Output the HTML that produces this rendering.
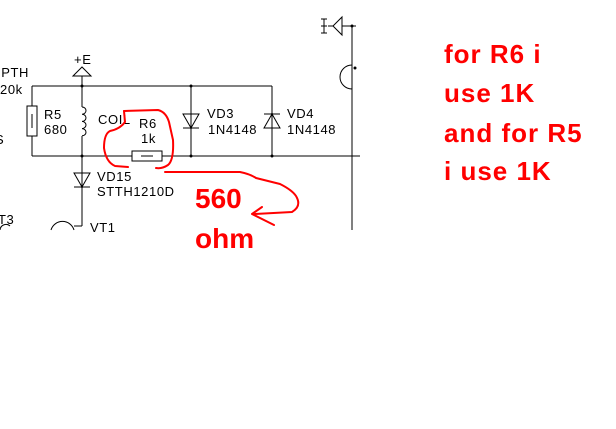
<!DOCTYPE html>
<html><head><style>
html,body{margin:0;padding:0;background:#fff;width:616px;height:429px;overflow:hidden}
svg{display:block}
.t{font-family:"Liberation Sans",sans-serif;font-size:13px;letter-spacing:0.6px;fill:#000}
.r{font-family:"Liberation Sans",sans-serif;font-weight:bold;fill:#f00}
</style></head><body>
<svg width="616" height="429" viewBox="0 0 616 429" xmlns="http://www.w3.org/2000/svg">
<rect width="616" height="429" fill="#fff"/>
<g stroke="#000" stroke-width="1" fill="none" shape-rendering="crispEdges">
<line x1="32" y1="86" x2="272" y2="86"/>
<line x1="32" y1="156" x2="360" y2="156"/>
<line x1="32" y1="86" x2="32" y2="106"/>
<line x1="32" y1="136" x2="32" y2="156"/>
<rect x="27" y="106" width="10" height="30" fill="#fff"/>
<line x1="32" y1="114" x2="32" y2="128"/>
<line x1="82" y1="76" x2="82" y2="107"/>
<line x1="82" y1="136" x2="82" y2="226"/>
<line x1="74" y1="76" x2="90" y2="76"/>
<line x1="191" y1="86" x2="191" y2="156"/>
<line x1="183" y1="128" x2="199" y2="128"/>
<line x1="272" y1="86" x2="272" y2="156"/>
<line x1="264" y1="114" x2="280" y2="114"/>
<line x1="74" y1="187" x2="90" y2="187"/>
<rect x="132" y="151" width="30" height="10" fill="#fff"/>
<line x1="141" y1="156" x2="153" y2="156"/>
<line x1="352" y1="26" x2="352" y2="230"/>
<line x1="342" y1="26" x2="356" y2="26"/>
<line x1="82" y1="226" x2="74" y2="226"/>
</g>
<g stroke="#000" stroke-width="1" fill="none">
<polygon points="82,67 73,76 91,76"/>
<polygon points="183,114 199,114 191,128"/>
<polygon points="264,128 280,128 272,114"/>
<polygon points="74,173 90,173 82,187"/>
<polygon points="342,17 342,35 333,26"/>
<path d="M82,107 a4,3.6 0 0 1 0,7.2 a4,3.6 0 0 1 0,7.2 a4,3.6 0 0 1 0,7.2 a4,3.6 0 0 1 0,7.2"/>
<path d="M352,65 A11,11 0 0 0 352,89"/>
<path d="M51,230 A12,12 0 0 1 74,230"/>
<path d="M0,230 A6,6 0 0 1 10,226"/>
<line x1="321" y1="19" x2="327" y2="19"/><line x1="324" y1="19" x2="324" y2="33"/><line x1="321" y1="26" x2="327" y2="26"/><line x1="321" y1="33" x2="327" y2="33"/>
<line x1="328" y1="26" x2="333" y2="26"/>
</g>
<g fill="#000">
<circle cx="82" cy="86" r="1.5"/><circle cx="82" cy="156" r="1.5"/>
<circle cx="191" cy="86" r="1.5"/><circle cx="191" cy="156" r="1.5"/>
<circle cx="272" cy="156" r="1.5"/><circle cx="352" cy="26" r="1.5"/>
<circle cx="191" cy="128" r="1"/><circle cx="272" cy="114" r="1"/>
<circle cx="82" cy="187" r="1"/><circle cx="355" cy="68" r="1.5"/>
</g>
<text class="t" x="74" y="64">+E</text>
<text class="t" x="-3" y="77">IPTH</text>
<text class="t" x="0" y="94">20k</text>
<text class="t" x="-5" y="144">S</text>
<text class="t" x="-2" y="224">T3</text>
<text class="t" x="44" y="119">R5</text>
<text class="t" x="44" y="134">680</text>
<text class="t" x="98" y="124">COIL</text>
<text class="t" x="139" y="128">R6</text>
<text class="t" x="141" y="143">1k</text>
<text class="t" x="207" y="118">VD3</text>
<text class="t" x="208" y="134">1N4148</text>
<text class="t" x="287" y="118">VD4</text>
<text class="t" x="287" y="134">1N4148</text>
<text class="t" x="97" y="181">VD15</text>
<text class="t" x="97" y="196">STTH1210D</text>
<text class="t" x="90" y="232">VT1</text>
<g stroke="#f00" stroke-width="2" fill="none" stroke-linejoin="round" stroke-linecap="round">
<path d="M124,111 L158,110 Q166,112 169,122 L173,140 Q174,160 168,165 Q162,169 156,168"/>
<path d="M124,111 L125,122 Q120,129 110,131 Q104,134 104,148 Q106,162 115,166 L128,167"/>
<path d="M165,172 L240,172 Q250,174 256,178 L280,184 Q292,190 296,196 Q302,206 292,212 L255,214"/>
<path d="M262,207 L252,214 L274,225"/>
</g>
<text class="r" x="195" y="208" font-size="28">560</text>
<text class="r" x="195" y="248" font-size="28">ohm</text>
<text class="r" x="444" y="63" font-size="26" letter-spacing="1">for R6 i</text>
<text class="r" x="444" y="102" font-size="26" letter-spacing="1">use 1K</text>
<text class="r" x="444" y="142" font-size="26" letter-spacing="1">and for R5</text>
<text class="r" x="444" y="180" font-size="26" letter-spacing="1">i use 1K</text>
</svg>
</body></html>
